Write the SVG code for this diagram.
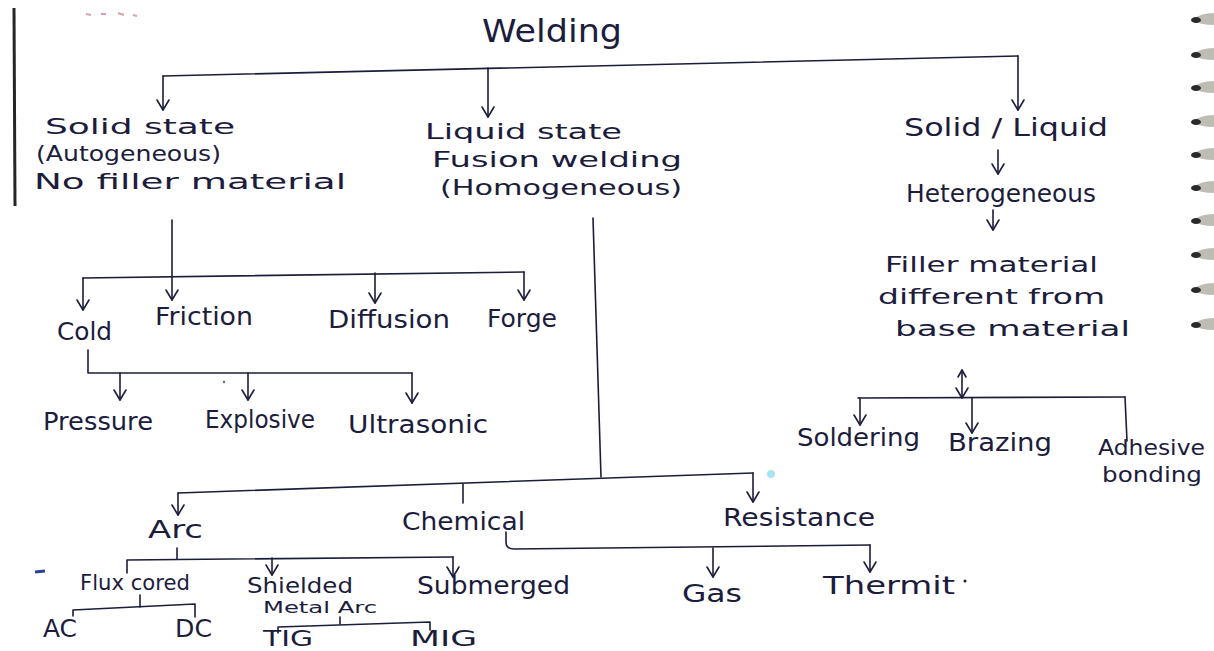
<svg xmlns="http://www.w3.org/2000/svg" width="1214" height="651" viewBox="0 0 1214 651">
<style>
  text { font-family: "DejaVu Sans", "Liberation Sans", sans-serif; font-size: 24px; fill: #1c1c3c; }
  .title { font-size: 32px; }
  .stack { font-size: 22px; }
  .small { font-size: 16px; }
  .mid { font-size: 21px; }
  .ln { fill: none; stroke: #1c1c3c; stroke-width: 1.6; stroke-linecap: round; stroke-linejoin: round; }
  .arr { marker-end: url(#ah); }
  .ring { fill: #bdbdb4; }
  .ringtip { fill: #2a2a2a; }
</style>
<defs>
  <marker id="ah" viewBox="-2 -8 14 16" refX="10" refY="0" markerWidth="14" markerHeight="16" markerUnits="userSpaceOnUse" orient="auto" overflow="visible">
    <path d="M0,-6 L10,0 L0,6" fill="none" stroke="#1c1c3c" stroke-width="1.6" stroke-linecap="round" stroke-linejoin="round"/>
  </marker>
  <marker id="ah2" viewBox="-2 -8 14 16" refX="10" refY="0" markerWidth="14" markerHeight="16" markerUnits="userSpaceOnUse" orient="auto-start-reverse" overflow="visible">
    <path d="M3,-4 L10,0 L3,4" fill="none" stroke="#1c1c3c" stroke-width="1.6" stroke-linecap="round" stroke-linejoin="round"/>
  </marker>
</defs>
<rect width="1214" height="651" fill="#ffffff"/>

<g id="page-decor">
  <path d="M14,8 L15,206" stroke="#262626" stroke-width="3" fill="none"/>
  <path d="M86,14 L91,15 M101,14 L106,14 M118,13 L124,15 M133,15 L137,16" stroke="#d9a0a8" stroke-width="2" fill="none"/>
  <path d="M35,572 L45,571" stroke="#2a3f9a" stroke-width="3" fill="none"/>
  <circle cx="771" cy="474" r="4" fill="#a8e4f0"/>
  <circle cx="224" cy="382" r="1.2" fill="#666"/>
  <circle cx="965" cy="581" r="1.5" fill="#1c1c3c"/>
  <g id="spiral">
    <path class="ring" d="M1192,20 Q1200,13 1214,13 L1214,25 Q1200,25 1192,20 Z"/><ellipse class="ringtip" cx="1196" cy="20" rx="5" ry="3"/>
    <path class="ring" d="M1192,55 Q1200,48 1214,48 L1214,60 Q1200,60 1192,55 Z"/><ellipse class="ringtip" cx="1196" cy="55" rx="5" ry="3"/>
    <path class="ring" d="M1192,88 Q1200,81 1214,81 L1214,93 Q1200,93 1192,88 Z"/><ellipse class="ringtip" cx="1196" cy="88" rx="5" ry="3"/>
    <path class="ring" d="M1192,122 Q1200,115 1214,115 L1214,127 Q1200,127 1192,122 Z"/><ellipse class="ringtip" cx="1196" cy="122" rx="5" ry="3"/>
    <path class="ring" d="M1192,155 Q1200,148 1214,148 L1214,160 Q1200,160 1192,155 Z"/><ellipse class="ringtip" cx="1196" cy="155" rx="5" ry="3"/>
    <path class="ring" d="M1192,188 Q1200,181 1214,181 L1214,193 Q1200,193 1192,188 Z"/><ellipse class="ringtip" cx="1196" cy="188" rx="5" ry="3"/>
    <path class="ring" d="M1192,221 Q1200,214 1214,214 L1214,226 Q1200,226 1192,221 Z"/><ellipse class="ringtip" cx="1196" cy="221" rx="5" ry="3"/>
    <path class="ring" d="M1192,255 Q1200,248 1214,248 L1214,260 Q1200,260 1192,255 Z"/><ellipse class="ringtip" cx="1196" cy="255" rx="5" ry="3"/>
    <path class="ring" d="M1192,290 Q1200,283 1214,283 L1214,295 Q1200,295 1192,290 Z"/><ellipse class="ringtip" cx="1196" cy="290" rx="5" ry="3"/>
    <path class="ring" d="M1192,325 Q1200,318 1214,318 L1214,330 Q1200,330 1192,325 Z"/><ellipse class="ringtip" cx="1196" cy="325" rx="5" ry="3"/>
  </g>
</g>

<g id="connectors">
  <path class="ln" d="M163,76 L1018,56"/>
  <path class="ln arr" d="M163,76 L163,110"/>
  <path class="ln arr" d="M488,68 L488,117"/>
  <path class="ln arr" d="M1018,56 L1018,110"/>
  <path class="ln arr" d="M998,150 L998,174"/>
  <path class="ln arr" d="M993,210 L993,230"/>
  <path class="ln" d="M962,370 L962,398" marker-start="url(#ah2)" marker-end="url(#ah)"/>
  <path class="ln" d="M858,398 L1125,397"/>
  <path class="ln arr" d="M860,398 L860,425"/>
  <path class="ln arr" d="M972,398 L972,433"/>
  <path class="ln" d="M1125,397 L1127,441"/>
  <path class="ln arr" d="M172,220 L172,300"/>
  <path class="ln" d="M83,278 L524,272"/>
  <path class="ln arr" d="M83,278 L83,310"/>
  <path class="ln arr" d="M375,273 L375,303"/>
  <path class="ln arr" d="M524,272 L524,300"/>
  <path class="ln" d="M88,350 L88,373 L412,373"/>
  <path class="ln arr" d="M120,373 L120,400"/>
  <path class="ln arr" d="M248,373 L248,400"/>
  <path class="ln arr" d="M412,373 L412,403"/>
  <path class="ln" d="M593,218 L601,477"/>
  <path class="ln" d="M178,493 L753,473"/>
  <path class="ln arr" d="M178,493 L178,515"/>
  <path class="ln" d="M463,484 L463,503"/>
  <path class="ln arr" d="M753,473 L753,502"/>
  <path class="ln" d="M177,548 L177,559"/>
  <path class="ln" d="M127,573 L127,560 L453,557"/>
  <path class="ln arr" d="M272,558 L272,575"/>
  <path class="ln arr" d="M453,557 L453,577"/>
  <path class="ln" d="M140,595 L140,607"/>
  <path class="ln" d="M73,616 L73,610 L195,604 L195,617"/>
  <path class="ln" d="M340,617 L340,624"/>
  <path class="ln" d="M278,633 L278,627 L430,622 L430,630"/>
  <path class="ln" d="M506,532 L506,542 Q506,549 514,549 L870,545"/>
  <path class="ln arr" d="M713,548 L713,577"/>
  <path class="ln arr" d="M870,545 L870,572"/>
</g>

<g id="n-welding"><text class="title" x="482" y="42" textLength="140" lengthAdjust="spacingAndGlyphs">Welding</text></g>

<g id="n-solid">
  <text class="stack" x="45" y="134" textLength="190" lengthAdjust="spacingAndGlyphs">Solid state</text>
  <text class="stack" x="36" y="161" textLength="185" lengthAdjust="spacingAndGlyphs">(Autogeneous)</text>
  <text class="stack" x="34" y="189" textLength="312" lengthAdjust="spacingAndGlyphs">No filler material</text>
</g>
<g id="n-liquid">
  <text class="stack" x="425" y="139" textLength="197" lengthAdjust="spacingAndGlyphs">Liquid state</text>
  <text class="stack" x="432" y="167" textLength="250" lengthAdjust="spacingAndGlyphs">Fusion welding</text>
  <text class="stack" x="440" y="195" textLength="242" lengthAdjust="spacingAndGlyphs">(Homogeneous)</text>
</g>
<g id="n-solidliquid"><text x="904" y="136" textLength="204" lengthAdjust="spacingAndGlyphs">Solid / Liquid</text></g>
<g id="n-hetero"><text x="906" y="202" textLength="190" lengthAdjust="spacingAndGlyphs">Heterogeneous</text></g>
<g id="n-filler">
  <text class="stack" x="885" y="272" textLength="213" lengthAdjust="spacingAndGlyphs">Filler material</text>
  <text class="stack" x="878" y="304" textLength="227" lengthAdjust="spacingAndGlyphs">different from</text>
  <text class="stack" x="895" y="336" textLength="235" lengthAdjust="spacingAndGlyphs">base material</text>
</g>

<g id="n-cold"><text x="57" y="340" textLength="55" lengthAdjust="spacingAndGlyphs">Cold</text></g>
<g id="n-friction"><text x="155" y="325" textLength="98" lengthAdjust="spacingAndGlyphs">Friction</text></g>
<g id="n-diffusion"><text x="328" y="328" textLength="122" lengthAdjust="spacingAndGlyphs">Diffusion</text></g>
<g id="n-forge"><text x="487" y="327" textLength="70" lengthAdjust="spacingAndGlyphs">Forge</text></g>

<g id="n-pressure"><text x="43" y="430" textLength="110" lengthAdjust="spacingAndGlyphs">Pressure</text></g>
<g id="n-explosive"><text x="205" y="428" textLength="110" lengthAdjust="spacingAndGlyphs">Explosive</text></g>
<g id="n-ultrasonic"><text x="348" y="433" textLength="140" lengthAdjust="spacingAndGlyphs">Ultrasonic</text></g>

<g id="n-soldering"><text x="797" y="446" textLength="123" lengthAdjust="spacingAndGlyphs">Soldering</text></g>
<g id="n-brazing"><text x="948" y="451" textLength="104" lengthAdjust="spacingAndGlyphs">Brazing</text></g>
<g id="n-adhesive">
  <text class="stack" x="1098" y="455" textLength="107" lengthAdjust="spacingAndGlyphs">Adhesive</text>
  <text class="stack" x="1102" y="482" textLength="100" lengthAdjust="spacingAndGlyphs">bonding</text>
</g>

<g id="n-arc"><text x="148" y="538" textLength="55" lengthAdjust="spacingAndGlyphs">Arc</text></g>
<g id="n-chemical"><text x="402" y="530" textLength="123" lengthAdjust="spacingAndGlyphs">Chemical</text></g>
<g id="n-resistance"><text x="723" y="526" textLength="152" lengthAdjust="spacingAndGlyphs">Resistance</text></g>

<g id="n-flux"><text class="mid" x="80" y="590" textLength="110" lengthAdjust="spacingAndGlyphs">Flux cored</text></g>
<g id="n-shielded">
  <text class="mid" x="247" y="593" textLength="106" lengthAdjust="spacingAndGlyphs">Shielded</text>
  <text class="small" x="263" y="613" textLength="114" lengthAdjust="spacingAndGlyphs">Metal Arc</text>
</g>
<g id="n-submerged"><text x="417" y="594" textLength="153" lengthAdjust="spacingAndGlyphs">Submerged</text></g>
<g id="n-gas"><text x="682" y="602" textLength="60" lengthAdjust="spacingAndGlyphs">Gas</text></g>
<g id="n-thermit"><text x="823" y="594" textLength="132" lengthAdjust="spacingAndGlyphs">Thermit</text></g>

<g id="n-ac"><text x="43" y="637" textLength="34" lengthAdjust="spacingAndGlyphs">AC</text></g>
<g id="n-dc"><text x="175" y="637" textLength="37" lengthAdjust="spacingAndGlyphs">DC</text></g>
<g id="n-tig"><text class="mid" x="263" y="646" textLength="50" lengthAdjust="spacingAndGlyphs">TIG</text></g>
<g id="n-mig"><text class="mid" x="410" y="646" textLength="67" lengthAdjust="spacingAndGlyphs">MIG</text></g>
</svg>
